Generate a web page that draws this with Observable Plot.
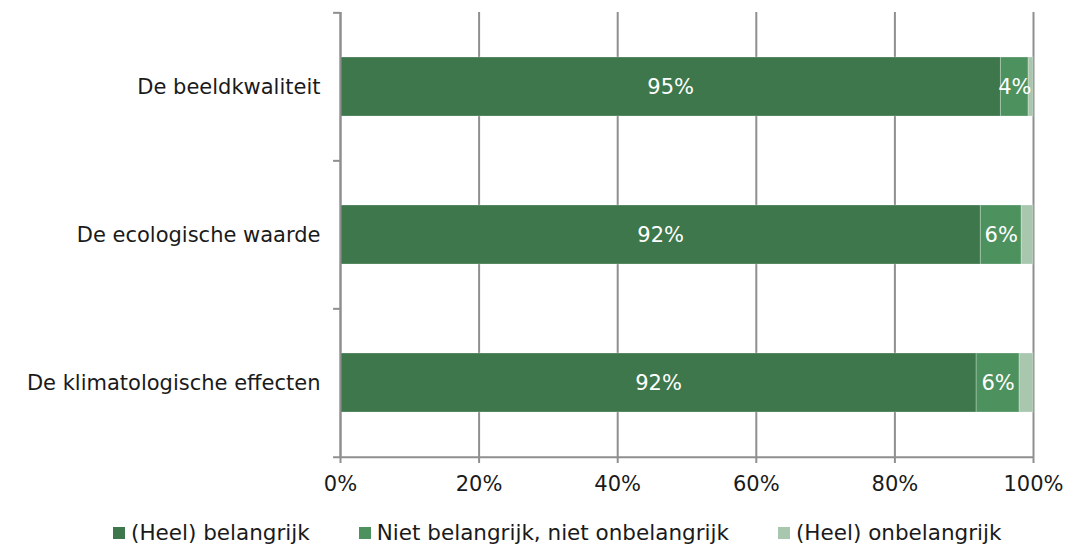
<!DOCTYPE html>
<html>
<head>
<meta charset="utf-8">
<script src="https://cdn.jsdelivr.net/npm/d3@7"></script>
<script src="https://cdn.jsdelivr.net/npm/@observablehq/plot@0.6"></script>
<style>
  body { margin: 0; background: #fff; font-family: "DejaVu Sans", Verdana, sans-serif; }
  #legend { display: flex; gap: 49px; padding-left: 113px; margin-top: 15px; font-size: 21.5px; color: #1a1a1a; }
  #legend .item { display: flex; align-items: center; }
  #legend .sw { width: 12px; height: 12px; margin-right: 6px; display: inline-block; }
</style>
</head>
<body>
<div id="chart"></div>
<div id="legend"></div>
<script>
const categories = ["De beeldkwaliteit", "De ecologische waarde", "De klimatologische effecten"];
const series = ["(Heel) belangrijk", "Niet belangrijk, niet onbelangrijk", "(Heel) onbelangrijk"];
const belangrijk = [95.3, 92.4, 91.8];
const neutraal = [4.0, 5.9, 6.2];
const onbelangrijk = [0.7, 1.7, 2.0];
const colors = ["#3d774b", "#4d925e", "#a9c6ae"];
const xTicks = [0, 20, 40, 60, 80, 100];

const seriesValues = [belangrijk, neutraal, onbelangrijk];
const data = [];
categories.forEach((c, i) => {
  series.forEach((s, j) => {
    data.push({category: c, series: s, value: seriesValues[j][i], labeled: j < 2});
  });
});

const width = 1081, height = 505, marginTop = 12, marginBottom = 48;
const step = (height - marginTop - marginBottom) / categories.length;
const gray = "#8f8f8f";

const chart = Plot.plot({
  width, height,
  marginLeft: 340, marginRight: 48, marginTop, marginBottom,
  style: {fontFamily: "'DejaVu Sans', Verdana, sans-serif", fontSize: "21px", color: "#1a1a1a", background: "#fff", overflow: "visible"},
  x: {domain: [0, 100], label: null},
  y: {domain: categories, paddingInner: 0.6, paddingOuter: 0.3, label: null},
  color: {domain: series, range: colors},
  marks: [
    Plot.gridX(xTicks, {stroke: gray, strokeOpacity: 1, strokeWidth: 2}),
    Plot.barX(data, Plot.stackX({x: "value", y: "category", fill: "series", stroke: "#ffffff", strokeOpacity: 0.25, strokeWidth: 1})),
    Plot.text(data, Plot.stackX({x: "value", y: "category", z: "series",
      text: d => d.labeled ? Math.round(d.value) + "%" : "", fill: "#ffffff", fontSize: 21})),
    Plot.ruleX([0], {stroke: gray, strokeWidth: 2}),
    Plot.ruleY(categories, {y: d => d, x1: -1, x2: 0, dy: -step / 2, stroke: gray, strokeWidth: 2}),
    Plot.ruleY([categories[categories.length - 1]], {y: d => d, x1: -1, x2: 100, dy: step / 2, stroke: gray, strokeWidth: 2}),
    Plot.axisX(xTicks, {tickSize: 6, tickPadding: 13, stroke: gray, strokeWidth: 2, tickFormat: d => d + "%", fontSize: 21, fill: "#1a1a1a", label: null}),
    Plot.axisY({tickSize: 0, tickPadding: 20, fontSize: 21, fill: "#1a1a1a", label: null})
  ]
});
document.getElementById("chart").appendChild(chart);

const legend = document.getElementById("legend");
series.forEach((s, j) => {
  const item = document.createElement("div");
  item.className = "item";
  const sw = document.createElement("span");
  sw.className = "sw";
  sw.style.background = colors[j];
  item.appendChild(sw);
  item.appendChild(document.createTextNode(s));
  legend.appendChild(item);
});
</script>
</body>
</html>
